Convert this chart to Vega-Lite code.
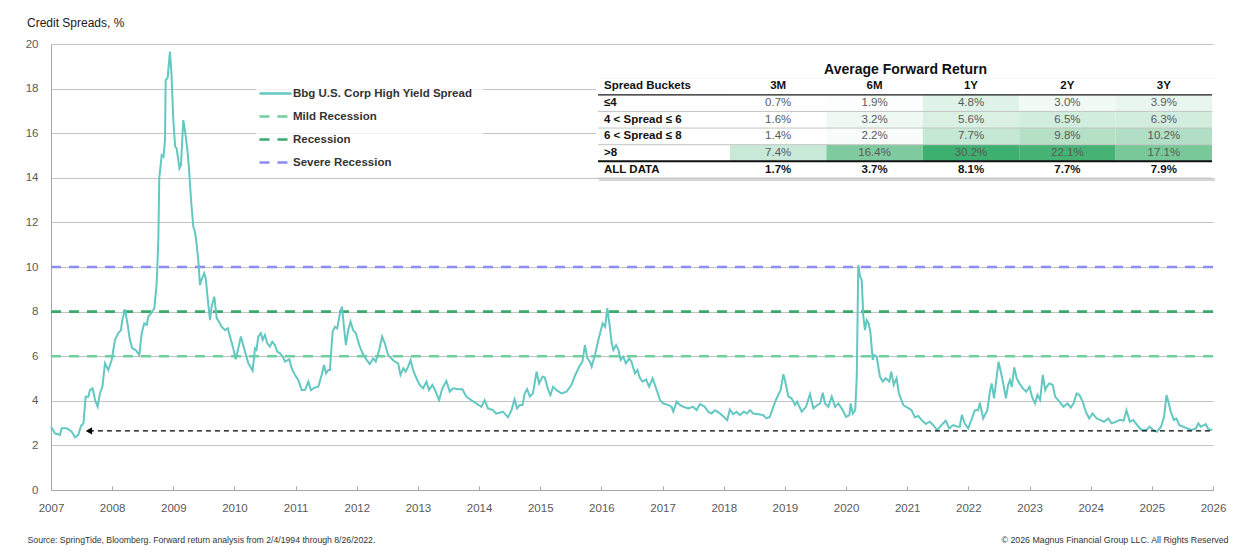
{
"$schema": "https://vega.github.io/schema/vega-lite/v6.json",
"width": 1162,
"height": 446,
"autosize": "none",
"padding": {"left": 51, "top": 44, "right": 42, "bottom": 65},
"background": "#ffffff",
"title": {"text": "Credit Spreads, %", "anchor": "start", "frame": "group", "dx": -24, "offset": 8, "fontSize": 12, "fontWeight": "normal", "color": "#1a1a1a"},
"config": {
  "font": "Liberation Sans, Arial, sans-serif",
  "view": {"stroke": null},
  "legend": {
    "orient": "none", "legendX": 205, "legendY": 30,
    "symbolSize": 256, "symbolStrokeWidth": 2.5, "symbolFillColor": "transparent",
    "labelFontSize": 11.5, "labelFontWeight": "bold", "labelColor": "#333333", "labelLimit": 400,
    "rowPadding": 8, "labelOffset": 8, "fillColor": "rgba(255,255,255,0.75)", "padding": 10
  }
},
"datasets": {
  "spread": [
{"year":2007.0,"spread":2.84},{"year":2007.065,"spread":2.54},{"year":2007.147,"spread":2.47},{"year":2007.175,"spread":2.77},{"year":2007.257,"spread":2.77},{"year":2007.338,"spread":2.62},{"year":2007.392,"spread":2.36},{"year":2007.446,"spread":2.47},{"year":2007.49,"spread":2.87},{"year":2007.53,"spread":2.99},{"year":2007.567,"spread":4.18},{"year":2007.61,"spread":4.18},{"year":2007.637,"spread":4.48},{"year":2007.68,"spread":4.56},{"year":2007.72,"spread":4.04},{"year":2007.763,"spread":3.74},{"year":2007.8,"spread":4.33},{"year":2007.84,"spread":4.63},{"year":2007.883,"spread":5.68},{"year":2007.937,"spread":5.38},{"year":2007.992,"spread":5.83},{"year":2008.046,"spread":6.73},{"year":2008.1,"spread":7.03},{"year":2008.144,"spread":7.17},{"year":2008.166,"spread":7.62},{"year":2008.21,"spread":8.1},{"year":2008.254,"spread":7.4},{"year":2008.29,"spread":6.73},{"year":2008.33,"spread":6.35},{"year":2008.385,"spread":6.28},{"year":2008.444,"spread":6.05},{"year":2008.483,"spread":7.03},{"year":2008.525,"spread":7.47},{"year":2008.565,"spread":7.4},{"year":2008.59,"spread":7.77},{"year":2008.635,"spread":7.92},{"year":2008.69,"spread":8.15},{"year":2008.728,"spread":9.27},{"year":2008.755,"spread":11.21},{"year":2008.77,"spread":13.98},{"year":2008.81,"spread":15.02},{"year":2008.84,"spread":14.95},{"year":2008.864,"spread":15.7},{"year":2008.875,"spread":18.39},{"year":2008.906,"spread":18.46},{"year":2008.945,"spread":19.66},{"year":2008.97,"spread":18.68},{"year":2009.0,"spread":16.59},{"year":2009.03,"spread":15.4},{"year":2009.055,"spread":15.32},{"year":2009.1,"spread":14.42},{"year":2009.125,"spread":14.57},{"year":2009.163,"spread":16.59},{"year":2009.19,"spread":16.14},{"year":2009.23,"spread":15.25},{"year":2009.256,"spread":14.42},{"year":2009.29,"spread":13.0},{"year":2009.327,"spread":11.81},{"year":2009.354,"spread":11.58},{"year":2009.38,"spread":11.06},{"year":2009.408,"spread":10.31},{"year":2009.436,"spread":9.19},{"year":2009.46,"spread":9.42},{"year":2009.505,"spread":9.72},{"year":2009.53,"spread":9.49},{"year":2009.57,"spread":8.37},{"year":2009.6,"spread":7.62},{"year":2009.626,"spread":8.22},{"year":2009.67,"spread":8.67},{"year":2009.71,"spread":7.7},{"year":2009.746,"spread":7.55},{"year":2009.79,"spread":7.32},{"year":2009.845,"spread":7.17},{"year":2009.89,"spread":7.25},{"year":2009.927,"spread":6.88},{"year":2009.98,"spread":6.35},{"year":2010.02,"spread":5.86},{"year":2010.062,"spread":6.35},{"year":2010.106,"spread":6.88},{"year":2010.134,"spread":6.58},
{"year":2010.172,"spread":6.2},{"year":2010.227,"spread":5.68},{"year":2010.297,"spread":5.35},{"year":2010.335,"spread":6.35},{"year":2010.36,"spread":6.28},{"year":2010.39,"spread":6.88},{"year":2010.43,"spread":7.03},{"year":2010.46,"spread":6.73},{"year":2010.498,"spread":6.95},{"year":2010.536,"spread":6.58},{"year":2010.58,"spread":6.43},{"year":2010.618,"spread":6.65},{"year":2010.66,"spread":6.5},{"year":2010.7,"spread":6.2},{"year":2010.744,"spread":6.13},{"year":2010.79,"spread":5.98},{"year":2010.826,"spread":5.76},{"year":2010.897,"spread":5.86},{"year":2010.935,"spread":5.46},{"year":2010.99,"spread":5.16},{"year":2011.044,"spread":4.93},{"year":2011.099,"spread":4.48},{"year":2011.153,"spread":4.48},{"year":2011.208,"spread":4.86},{"year":2011.25,"spread":4.48},{"year":2011.317,"spread":4.6},{"year":2011.37,"spread":4.63},{"year":2011.426,"spread":5.16},{"year":2011.464,"spread":5.61},{"year":2011.496,"spread":5.23},{"year":2011.534,"spread":5.38},{"year":2011.56,"spread":5.38},{"year":2011.605,"spread":7.1},{"year":2011.643,"spread":7.32},{"year":2011.68,"spread":7.25},{"year":2011.725,"spread":7.92},{"year":2011.758,"spread":8.22},{"year":2011.79,"spread":7.32},{"year":2011.822,"spread":6.5},{"year":2011.86,"spread":7.17},{"year":2011.898,"spread":7.55},{"year":2011.94,"spread":7.17},{"year":2011.985,"spread":7.03},{"year":2012.04,"spread":6.5},{"year":2012.094,"spread":6.13},{"year":2012.16,"spread":5.83},{"year":2012.213,"spread":5.65},{"year":2012.268,"spread":5.9},{"year":2012.31,"spread":5.76},{"year":2012.366,"spread":6.28},{"year":2012.415,"spread":6.88},{"year":2012.458,"spread":6.58},{"year":2012.513,"spread":6.05},{"year":2012.567,"spread":5.9},{"year":2012.62,"spread":5.76},{"year":2012.676,"spread":5.68},{"year":2012.714,"spread":5.16},{"year":2012.76,"spread":5.46},{"year":2012.8,"spread":5.31},{"year":2012.84,"spread":5.53},{"year":2012.88,"spread":5.83},{"year":2012.92,"spread":5.38},{"year":2012.975,"spread":5.01},{"year":2013.03,"spread":4.71},{"year":2013.084,"spread":4.56},{"year":2013.14,"spread":4.86},{"year":2013.18,"spread":4.48},{"year":2013.236,"spread":4.71},{"year":2013.29,"spread":4.41},{"year":2013.345,"spread":4.03},{"year":2013.4,"spread":4.56},{"year":2013.465,"spread":4.89},{"year":2013.52,"spread":4.41},{"year":2013.574,"spread":4.56},{"year":2013.656,"spread":4.52},{"year":2013.727,"spread":4.52},{"year":2013.79,"spread":4.19},{"year":2013.873,"spread":4.03},{"year":2013.955,"spread":3.88},{"year":2014.037,"spread":3.73},{"year":2014.09,"spread":4.03},{"year":2014.145,"spread":3.66},{"year":2014.227,"spread":3.58},{"year":2014.28,"spread":3.43},{"year":2014.39,"spread":3.51},{"year":2014.473,"spread":3.26},{"year":2014.53,"spread":3.58},{"year":2014.58,"spread":4.07},{"year":2014.62,"spread":3.66},{"year":2014.665,"spread":3.81},{"year":2014.71,"spread":3.81},{"year":2014.746,"spread":4.33},{"year":2014.785,"spread":4.52},{"year":2014.83,"spread":4.19},{"year":2014.88,"spread":4.33},{"year":2014.94,"spread":5.31},{"year":2014.98,"spread":4.78},{"year":2015.036,"spread":5.08},{"year":2015.074,"spread":5.05},{"year":2015.13,"spread":4.48},{"year":2015.166,"spread":4.26},{"year":2015.21,"spread":4.63},{"year":2015.265,"spread":4.48},{"year":2015.347,"spread":4.33},{"year":2015.43,"spread":4.41},{"year":2015.51,"spread":4.71},{"year":2015.566,"spread":5.12},{"year":2015.637,"spread":5.53},{"year":2015.69,"spread":5.76},{"year":2015.73,"spread":6.5},{"year":2015.77,"spread":5.9},{"year":2015.81,"spread":5.76},{"year":2015.84,"spread":5.53},{"year":2015.894,"spread":6.05},{"year":2015.95,"spread":6.73},
{"year":2016.02,"spread":7.47},{"year":2016.06,"spread":7.32},{"year":2016.097,"spread":8.15},{"year":2016.13,"spread":7.47},{"year":2016.168,"spread":6.58},{"year":2016.195,"spread":6.28},{"year":2016.24,"spread":6.5},{"year":2016.28,"spread":6.28},{"year":2016.314,"spread":5.83},{"year":2016.357,"spread":5.98},{"year":2016.4,"spread":5.68},{"year":2016.455,"spread":5.9},{"year":2016.49,"spread":5.76},{"year":2016.548,"spread":5.23},{"year":2016.59,"spread":5.38},{"year":2016.63,"spread":5.01},{"year":2016.674,"spread":4.86},{"year":2016.73,"spread":4.96},{"year":2016.78,"spread":4.63},{"year":2016.837,"spread":5.01},{"year":2016.875,"spread":4.71},{"year":2016.913,"spread":4.41},{"year":2016.957,"spread":4.04},{"year":2017.01,"spread":3.88},{"year":2017.094,"spread":3.81},{"year":2017.148,"spread":3.73},{"year":2017.175,"spread":3.51},{"year":2017.23,"spread":3.96},{"year":2017.284,"spread":3.81},{"year":2017.34,"spread":3.73},{"year":2017.42,"spread":3.66},{"year":2017.5,"spread":3.73},{"year":2017.556,"spread":3.58},{"year":2017.61,"spread":3.85},{"year":2017.69,"spread":3.73},{"year":2017.747,"spread":3.51},{"year":2017.8,"spread":3.43},{"year":2017.856,"spread":3.58},{"year":2017.94,"spread":3.43},{"year":2018.0,"spread":3.28},{"year":2018.057,"spread":3.13},{"year":2018.1,"spread":3.61},{"year":2018.155,"spread":3.4},{"year":2018.21,"spread":3.51},{"year":2018.264,"spread":3.36},{"year":2018.33,"spread":3.51},{"year":2018.384,"spread":3.43},{"year":2018.43,"spread":3.58},{"year":2018.48,"spread":3.43},{"year":2018.564,"spread":3.4},{"year":2018.645,"spread":3.36},{"year":2018.7,"spread":3.21},{"year":2018.755,"spread":3.28},{"year":2018.81,"spread":3.73},{"year":2018.853,"spread":4.04},{"year":2018.89,"spread":4.26},{"year":2018.93,"spread":4.48},{"year":2018.975,"spread":5.19},{"year":2019.0,"spread":4.93},{"year":2019.057,"spread":4.19},{"year":2019.11,"spread":4.11},{"year":2019.166,"spread":3.81},{"year":2019.2,"spread":3.96},{"year":2019.275,"spread":3.51},{"year":2019.345,"spread":3.73},{"year":2019.41,"spread":4.3},{"year":2019.466,"spread":3.66},{"year":2019.53,"spread":3.81},{"year":2019.575,"spread":3.88},{"year":2019.62,"spread":4.36},{"year":2019.656,"spread":3.88},{"year":2019.71,"spread":3.73},{"year":2019.766,"spread":4.19},{"year":2019.82,"spread":3.73},{"year":2019.874,"spread":3.88},{"year":2019.945,"spread":3.58},{"year":2020.0,"spread":3.28},{"year":2020.054,"spread":3.36},{"year":2020.076,"spread":3.88},{"year":2020.11,"spread":3.43},{"year":2020.15,"spread":3.58},{"year":2020.175,"spread":5.08},{"year":2020.2,"spread":10.09},{"year":2020.23,"spread":9.57},{"year":2020.256,"spread":9.42},{"year":2020.283,"spread":7.77},{"year":2020.31,"spread":7.17},{"year":2020.337,"spread":7.62},{"year":2020.37,"spread":7.47},{"year":2020.4,"spread":7.02},{"year":2020.436,"spread":5.83},{"year":2020.46,"spread":6.05},{"year":2020.5,"spread":5.98},{"year":2020.555,"spread":5.08},{"year":2020.6,"spread":4.86},{"year":2020.65,"spread":5.01},{"year":2020.706,"spread":4.86},{"year":2020.74,"spread":5.31},{"year":2020.78,"spread":4.71},{"year":2020.826,"spread":5.01},{"year":2020.864,"spread":4.33},
{"year":2020.936,"spread":3.81},{"year":2021.0,"spread":3.7},{"year":2021.07,"spread":3.58},{"year":2021.126,"spread":3.26},{"year":2021.18,"spread":3.32},{"year":2021.234,"spread":3.14},{"year":2021.305,"spread":2.96},{"year":2021.37,"spread":3.06},{"year":2021.425,"spread":2.91},{"year":2021.49,"spread":2.69},{"year":2021.56,"spread":2.91},{"year":2021.63,"spread":3.11},{"year":2021.686,"spread":2.76},{"year":2021.75,"spread":2.91},{"year":2021.82,"spread":2.84},{"year":2021.86,"spread":2.84},{"year":2021.894,"spread":3.37},{"year":2021.94,"spread":2.99},{"year":2021.997,"spread":2.76},{"year":2022.05,"spread":3.14},{"year":2022.106,"spread":3.58},{"year":2022.16,"spread":3.58},{"year":2022.188,"spread":3.91},{"year":2022.243,"spread":3.21},{"year":2022.31,"spread":3.58},{"year":2022.352,"spread":4.41},{"year":2022.38,"spread":4.78},{"year":2022.42,"spread":4.11},{"year":2022.46,"spread":5.01},{"year":2022.493,"spread":5.75},{"year":2022.53,"spread":5.31},{"year":2022.57,"spread":4.78},{"year":2022.613,"spread":4.11},{"year":2022.65,"spread":4.71},{"year":2022.68,"spread":4.93},{"year":2022.71,"spread":4.63},{"year":2022.75,"spread":5.5},{"year":2022.79,"spread":5.01},{"year":2022.835,"spread":4.78},{"year":2022.89,"spread":4.56},{"year":2022.945,"spread":4.41},{"year":2023.0,"spread":4.63},{"year":2023.04,"spread":4.19},{"year":2023.09,"spread":3.88},{"year":2023.13,"spread":4.26},{"year":2023.173,"spread":4.04},{"year":2023.217,"spread":5.16},{"year":2023.256,"spread":4.48},{"year":2023.28,"spread":4.63},{"year":2023.325,"spread":4.78},{"year":2023.38,"spread":4.71},{"year":2023.418,"spread":4.19},{"year":2023.49,"spread":3.96},{"year":2023.555,"spread":3.73},{"year":2023.62,"spread":3.88},{"year":2023.675,"spread":3.7},{"year":2023.72,"spread":3.88},{"year":2023.77,"spread":4.33},{"year":2023.815,"spread":4.26},{"year":2023.87,"spread":3.96},{"year":2023.92,"spread":3.51},{"year":2023.975,"spread":3.21},{"year":2024.03,"spread":3.43},{"year":2024.097,"spread":3.21},{"year":2024.16,"spread":3.14},{"year":2024.217,"spread":3.06},{"year":2024.287,"spread":3.21},{"year":2024.34,"spread":2.99},{"year":2024.41,"spread":3.06},{"year":2024.477,"spread":3.14},{"year":2024.54,"spread":3.11},{"year":2024.585,"spread":3.58},{"year":2024.64,"spread":3.06},{"year":2024.695,"spread":3.14},{"year":2024.76,"spread":2.91},{"year":2024.83,"spread":2.69},{"year":2024.91,"spread":2.69},{"year":2024.965,"spread":2.84},{"year":2025.02,"spread":2.69},{"year":2025.08,"spread":2.61},{"year":2025.15,"spread":2.84},{"year":2025.2,"spread":3.29},{"year":2025.24,"spread":4.26},{"year":2025.27,"spread":3.96},{"year":2025.31,"spread":3.51},{"year":2025.36,"spread":3.14},{"year":2025.4,"spread":3.21},{"year":2025.45,"spread":2.91},{"year":2025.51,"spread":2.84},{"year":2025.58,"spread":2.76},{"year":2025.65,"spread":2.69},{"year":2025.72,"spread":2.76},{"year":2025.76,"spread":2.99},{"year":2025.8,"spread":2.84},{"year":2025.855,"spread":2.91},{"year":2025.88,"spread":2.96},{"year":2025.925,"spread":2.72},{"year":2025.99,"spread":2.69}
  ],
  "thresholds": [
    {"name": "Mild Recession", "level": 6},
    {"name": "Recession", "level": 8},
    {"name": "Severe Recession", "level": 10}
  ],
  "arrow": [{"from": 2007.62, "to": 2026, "level": 2.65}],
  "rows": [
    {"row": "Average Forward Return"}, {"row": "Spread Buckets"}, {"row": "≤4"}, {"row": "4 < Spread ≤ 6"}, {"row": "6 < Spread ≤ 8"}, {"row": ">8"}, {"row": "ALL DATA"}
  ],
  "table": [
    {"bucket": "≤4", "period": "3M", "ret": 0.007}, {"bucket": "≤4", "period": "6M", "ret": 0.019}, {"bucket": "≤4", "period": "1Y", "ret": 0.048}, {"bucket": "≤4", "period": "2Y", "ret": 0.030}, {"bucket": "≤4", "period": "3Y", "ret": 0.039},
    {"bucket": "4 < Spread ≤ 6", "period": "3M", "ret": 0.016}, {"bucket": "4 < Spread ≤ 6", "period": "6M", "ret": 0.032}, {"bucket": "4 < Spread ≤ 6", "period": "1Y", "ret": 0.056}, {"bucket": "4 < Spread ≤ 6", "period": "2Y", "ret": 0.065}, {"bucket": "4 < Spread ≤ 6", "period": "3Y", "ret": 0.063},
    {"bucket": "6 < Spread ≤ 8", "period": "3M", "ret": 0.014}, {"bucket": "6 < Spread ≤ 8", "period": "6M", "ret": 0.022}, {"bucket": "6 < Spread ≤ 8", "period": "1Y", "ret": 0.077}, {"bucket": "6 < Spread ≤ 8", "period": "2Y", "ret": 0.098}, {"bucket": "6 < Spread ≤ 8", "period": "3Y", "ret": 0.102},
    {"bucket": ">8", "period": "3M", "ret": 0.074}, {"bucket": ">8", "period": "6M", "ret": 0.164}, {"bucket": ">8", "period": "1Y", "ret": 0.302}, {"bucket": ">8", "period": "2Y", "ret": 0.221}, {"bucket": ">8", "period": "3Y", "ret": 0.171},
    {"bucket": "ALL DATA", "period": "3M", "ret": 0.017}, {"bucket": "ALL DATA", "period": "6M", "ret": 0.037}, {"bucket": "ALL DATA", "period": "1Y", "ret": 0.081}, {"bucket": "ALL DATA", "period": "2Y", "ret": 0.077}, {"bucket": "ALL DATA", "period": "3Y", "ret": 0.079}
  ]
},
"layer": [
  {
    "data": {"name": "thresholds"},
    "mark": {"type": "rule", "strokeWidth": 2.6},
    "encoding": {
      "y": {"field": "level", "type": "quantitative", "scale": {"domain": [0, 20], "nice": false}, "axis": null},
      "color": {"field": "name", "type": "nominal",
        "scale": {"domain": ["Bbg U.S. Corp High Yield Spread", "Mild Recession", "Recession", "Severe Recession"], "range": ["#62c8c1", "#6fcf9d", "#3aab6c", "#8b8cf6"]},
        "legend": {"title": null, "symbolType": "M-2,0L2,0"}},
      "strokeDash": {"field": "name", "type": "nominal",
        "scale": {"domain": ["Bbg U.S. Corp High Yield Spread", "Mild Recession", "Recession", "Severe Recession"], "range": [[1, 0], [10, 8], [10, 8], [10, 8]]},
        "legend": {"title": null, "symbolType": "M-2,0L2,0"}}
    }
  },
  {
    "data": {"name": "spread"},
    "mark": {"type": "line", "strokeWidth": 2},
    "encoding": {
      "x": {"field": "year", "type": "quantitative",
        "scale": {"domain": [2007, 2026], "nice": false, "zero": false},
        "axis": {"values": [2007,2008,2009,2010,2011,2012,2013,2014,2015,2016,2017,2018,2019,2020,2021,2022,2023,2024,2025,2026],
          "format": "d", "grid": false, "domainColor": "#a6a6a6", "tickColor": "#a6a6a6", "tickSize": -4,
          "labelPadding": 16, "labelFontSize": 11.5, "labelColor": "#595959", "labelFlush": false, "labelOverlap": false,
          "title": "Source: SpringTide, Bloomberg. Forward return analysis from 2/4/1994 through 8/26/2022.",
          "titleX": -24, "titleY": 49, "titleAlign": "left", "titleAnchor": "start", "titleBaseline": "middle",
          "titleFontSize": 8.7, "titleFontWeight": "normal", "titleColor": "#333333"}},
      "y": {"field": "spread", "type": "quantitative",
        "scale": {"domain": [0, 20], "nice": false},
        "axis": {"values": [0,2,4,6,8,10,12,14,16,18,20], "grid": true, "gridColor": "#c4c4c4", "ticks": false,
          "domainColor": "#a6a6a6", "labelPadding": 13, "labelFontSize": 11.5, "labelColor": "#595959",
          "title": "© 2026 Magnus Financial Group LLC. All Rights Reserved",
          "titleAngle": 0, "titleX": 1177, "titleY": 495, "titleAlign": "right", "titleBaseline": "middle",
          "titleFontSize": 8.8, "titleFontWeight": "normal", "titleColor": "#333333"}},
      "color": {"datum": "Bbg U.S. Corp High Yield Spread", "type": "nominal",
        "scale": {"domain": ["Bbg U.S. Corp High Yield Spread", "Mild Recession", "Recession", "Severe Recession"], "range": ["#62c8c1", "#6fcf9d", "#3aab6c", "#8b8cf6"]},
        "legend": {"title": null, "symbolType": "M-2,0L2,0"}},
      "strokeDash": {"datum": "Bbg U.S. Corp High Yield Spread", "type": "nominal",
        "scale": {"domain": ["Bbg U.S. Corp High Yield Spread", "Mild Recession", "Recession", "Severe Recession"], "range": [[1, 0], [10, 8], [10, 8], [10, 8]]},
        "legend": {"title": null, "symbolType": "M-2,0L2,0"}}
    }
  },
  {
    "data": {"name": "arrow"},
    "mark": {"type": "rule", "color": "#000000", "strokeWidth": 1.3, "strokeDash": [5, 4]},
    "encoding": {
      "x": {"field": "from", "type": "quantitative", "scale": {"domain": [2007, 2026], "nice": false, "zero": false}, "axis": null},
      "x2": {"field": "to"},
      "y": {"field": "level", "type": "quantitative", "scale": {"domain": [0, 20], "nice": false}, "axis": null}
    }
  },
  {
    "data": {"name": "arrow"},
    "mark": {"type": "point", "shape": "triangle-left", "filled": true, "color": "#000000", "opacity": 1, "size": 55},
    "encoding": {
      "x": {"field": "from", "type": "quantitative", "scale": {"domain": [2007, 2026], "nice": false, "zero": false}, "axis": null},
      "y": {"field": "level", "type": "quantitative", "scale": {"domain": [0, 20], "nice": false}, "axis": null}
    }
  },
  {
    "data": {"name": "rows"},
    "mark": {"type": "rect", "color": "#d4d4d4", "xOffset": 3, "yOffset": 3},
    "encoding": {
      "x": {"datum": "L", "type": "nominal", "scale": {"type": "point", "domain": ["L", "R"], "range": [545, 1164], "padding": 0}, "axis": null},
      "x2": {"datum": "R"},
      "y": {"field": "row", "type": "nominal", "scale": {"type": "band", "domain": ["Average Forward Return", "Spread Buckets", "≤4", "4 < Spread ≤ 6", "6 < Spread ≤ 8", ">8", "ALL DATA"], "range": [17.5, 134], "paddingInner": 0, "paddingOuter": 0}, "axis": null}
    }
  },
  {
    "data": {"name": "rows"},
    "mark": {"type": "rect", "color": "#ffffff"},
    "encoding": {
      "x": {"datum": "L", "type": "nominal", "scale": {"type": "point", "domain": ["L", "R"], "range": [545, 1164], "padding": 0}, "axis": null},
      "x2": {"datum": "R"},
      "y": {"field": "row", "type": "nominal", "scale": {"type": "band", "domain": ["Average Forward Return", "Spread Buckets", "≤4", "4 < Spread ≤ 6", "6 < Spread ≤ 8", ">8", "ALL DATA"], "range": [17.5, 134], "paddingInner": 0, "paddingOuter": 0}, "axis": null}
    }
  },
  {
    "data": {"name": "table"},
    "transform": [{"filter": "datum.bucket !== 'ALL DATA'"}],
    "mark": {"type": "rect"},
    "encoding": {
      "x": {"field": "period", "type": "nominal", "scale": {"type": "band", "domain": ["3M", "6M", "1Y", "2Y", "3Y"], "range": [679, 1161], "paddingInner": 0, "paddingOuter": 0}, "axis": null},
      "y": {"field": "bucket", "type": "nominal", "scale": {"type": "band", "domain": ["Average Forward Return", "Spread Buckets", "≤4", "4 < Spread ≤ 6", "6 < Spread ≤ 8", ">8", "ALL DATA"], "range": [17.5, 134], "paddingInner": 0, "paddingOuter": 0}, "axis": null},
      "fill": {"field": "ret", "type": "quantitative",
        "scale": {"domain": [0, 0.015, 0.075, 0.1, 0.164, 0.22, 0.302], "range": ["#ffffff", "#ffffff", "#c7e9d6", "#b3dfc5", "#7fcb9f", "#46b274", "#3daf6f"], "interpolate": "rgb"},
        "legend": null}
    }
  },
  {
    "data": {"name": "rows"},
    "transform": [{"filter": {"field": "row", "oneOf": ["4 < Spread ≤ 6", "6 < Spread ≤ 8", ">8"]}}],
    "mark": {"type": "rule", "color": "#c4c4c4", "strokeWidth": 1},
    "encoding": {
      "x": {"datum": "L", "type": "nominal", "scale": {"type": "point", "domain": ["L", "R"], "range": [547, 1161], "padding": 0}, "axis": null},
      "x2": {"datum": "R"},
      "y": {"field": "row", "type": "nominal", "bandPosition": 0, "scale": {"type": "band", "domain": ["Average Forward Return", "Spread Buckets", "≤4", "4 < Spread ≤ 6", "6 < Spread ≤ 8", ">8", "ALL DATA"], "range": [17.5, 134], "paddingInner": 0, "paddingOuter": 0}, "axis": null}
    }
  },
  {
    "data": {"name": "rows"},
    "transform": [{"filter": {"field": "row", "equal": "≤4"}}],
    "mark": {"type": "rule", "color": "#1a1a1a", "strokeWidth": 1.3},
    "encoding": {
      "x": {"datum": "L", "type": "nominal", "scale": {"type": "point", "domain": ["L", "R"], "range": [547, 1161], "padding": 0}, "axis": null},
      "x2": {"datum": "R"},
      "y": {"field": "row", "type": "nominal", "bandPosition": 0, "scale": {"type": "band", "domain": ["Average Forward Return", "Spread Buckets", "≤4", "4 < Spread ≤ 6", "6 < Spread ≤ 8", ">8", "ALL DATA"], "range": [17.5, 134], "paddingInner": 0, "paddingOuter": 0}, "axis": null}
    }
  },
  {
    "data": {"name": "rows"},
    "transform": [{"filter": {"field": "row", "equal": "ALL DATA"}}],
    "mark": {"type": "rule", "color": "#111111", "strokeWidth": 2},
    "encoding": {
      "x": {"datum": "L", "type": "nominal", "scale": {"type": "point", "domain": ["L", "R"], "range": [547, 1161], "padding": 0}, "axis": null},
      "x2": {"datum": "R"},
      "y": {"field": "row", "type": "nominal", "bandPosition": 0, "scale": {"type": "band", "domain": ["Average Forward Return", "Spread Buckets", "≤4", "4 < Spread ≤ 6", "6 < Spread ≤ 8", ">8", "ALL DATA"], "range": [17.5, 134], "paddingInner": 0, "paddingOuter": 0}, "axis": null}
    }
  },
  {
    "data": {"name": "rows"},
    "transform": [{"filter": {"field": "row", "equal": "ALL DATA"}}],
    "mark": {"type": "rule", "color": "#c4c4c4", "strokeWidth": 1},
    "encoding": {
      "x": {"datum": "L", "type": "nominal", "scale": {"type": "point", "domain": ["L", "R"], "range": [547, 1161], "padding": 0}, "axis": null},
      "x2": {"datum": "R"},
      "y": {"field": "row", "type": "nominal", "bandPosition": 1, "scale": {"type": "band", "domain": ["Average Forward Return", "Spread Buckets", "≤4", "4 < Spread ≤ 6", "6 < Spread ≤ 8", ">8", "ALL DATA"], "range": [17.5, 134], "paddingInner": 0, "paddingOuter": 0}, "axis": null}
    }
  },
  {
    "data": {"name": "table"},
    "transform": [{"filter": "datum.bucket !== 'ALL DATA'"}],
    "mark": {"type": "text", "fontSize": 11.5, "color": "#595959"},
    "encoding": {
      "x": {"field": "period", "type": "nominal", "scale": {"type": "band", "domain": ["3M", "6M", "1Y", "2Y", "3Y"], "range": [679, 1161], "paddingInner": 0, "paddingOuter": 0}, "axis": null},
      "y": {"field": "bucket", "type": "nominal", "scale": {"type": "band", "domain": ["Average Forward Return", "Spread Buckets", "≤4", "4 < Spread ≤ 6", "6 < Spread ≤ 8", ">8", "ALL DATA"], "range": [17.5, 134], "paddingInner": 0, "paddingOuter": 0}, "axis": null},
      "text": {"field": "ret", "type": "quantitative", "format": ".1%"}
    }
  },
  {
    "data": {"name": "table"},
    "transform": [{"filter": "datum.bucket === 'ALL DATA'"}],
    "mark": {"type": "text", "fontSize": 11.5, "fontWeight": "bold", "color": "#111111"},
    "encoding": {
      "x": {"field": "period", "type": "nominal", "scale": {"type": "band", "domain": ["3M", "6M", "1Y", "2Y", "3Y"], "range": [679, 1161], "paddingInner": 0, "paddingOuter": 0}, "axis": null},
      "y": {"field": "bucket", "type": "nominal", "scale": {"type": "band", "domain": ["Average Forward Return", "Spread Buckets", "≤4", "4 < Spread ≤ 6", "6 < Spread ≤ 8", ">8", "ALL DATA"], "range": [17.5, 134], "paddingInner": 0, "paddingOuter": 0}, "axis": null},
      "text": {"field": "ret", "type": "quantitative", "format": ".1%"}
    }
  },
  {
    "data": {"name": "table"},
    "transform": [{"aggregate": [{"op": "count", "as": "n"}], "groupby": ["period"]}],
    "mark": {"type": "text", "fontSize": 11.5, "fontWeight": "bold", "color": "#111111"},
    "encoding": {
      "x": {"field": "period", "type": "nominal", "scale": {"type": "band", "domain": ["3M", "6M", "1Y", "2Y", "3Y"], "range": [679, 1161], "paddingInner": 0, "paddingOuter": 0}, "axis": null},
      "y": {"datum": "Spread Buckets", "type": "nominal", "scale": {"type": "band", "domain": ["Average Forward Return", "Spread Buckets", "≤4", "4 < Spread ≤ 6", "6 < Spread ≤ 8", ">8", "ALL DATA"], "range": [17.5, 134], "paddingInner": 0, "paddingOuter": 0}, "axis": null},
      "text": {"field": "period", "type": "nominal"}
    }
  },
  {
    "data": {"name": "rows"},
    "transform": [{"filter": "datum.row !== 'Average Forward Return'"}],
    "mark": {"type": "text", "fontSize": 11.5, "fontWeight": "bold", "color": "#111111", "align": "left"},
    "encoding": {
      "x": {"datum": "L", "type": "nominal", "scale": {"type": "point", "domain": ["L", "R"], "range": [553, 1161], "padding": 0}, "axis": null},
      "y": {"field": "row", "type": "nominal", "scale": {"type": "band", "domain": ["Average Forward Return", "Spread Buckets", "≤4", "4 < Spread ≤ 6", "6 < Spread ≤ 8", ">8", "ALL DATA"], "range": [17.5, 134], "paddingInner": 0, "paddingOuter": 0}, "axis": null},
      "text": {"field": "row", "type": "nominal"}
    }
  },
  {
    "data": {"name": "rows"},
    "transform": [{"filter": {"field": "row", "equal": "Average Forward Return"}}],
    "mark": {"type": "text", "fontSize": 14, "fontWeight": "bold", "color": "#111111", "align": "center"},
    "encoding": {
      "x": {"datum": "C", "type": "nominal", "scale": {"type": "point", "domain": ["L", "C", "R"], "range": [545, 1164], "padding": 0}, "axis": null},
      "y": {"field": "row", "type": "nominal", "scale": {"type": "band", "domain": ["Average Forward Return", "Spread Buckets", "≤4", "4 < Spread ≤ 6", "6 < Spread ≤ 8", ">8", "ALL DATA"], "range": [17.5, 134], "paddingInner": 0, "paddingOuter": 0}, "axis": null},
      "text": {"field": "row", "type": "nominal"}
    }
  }
],
"resolve": {"scale": {"x": "independent", "y": "independent"}}
}
